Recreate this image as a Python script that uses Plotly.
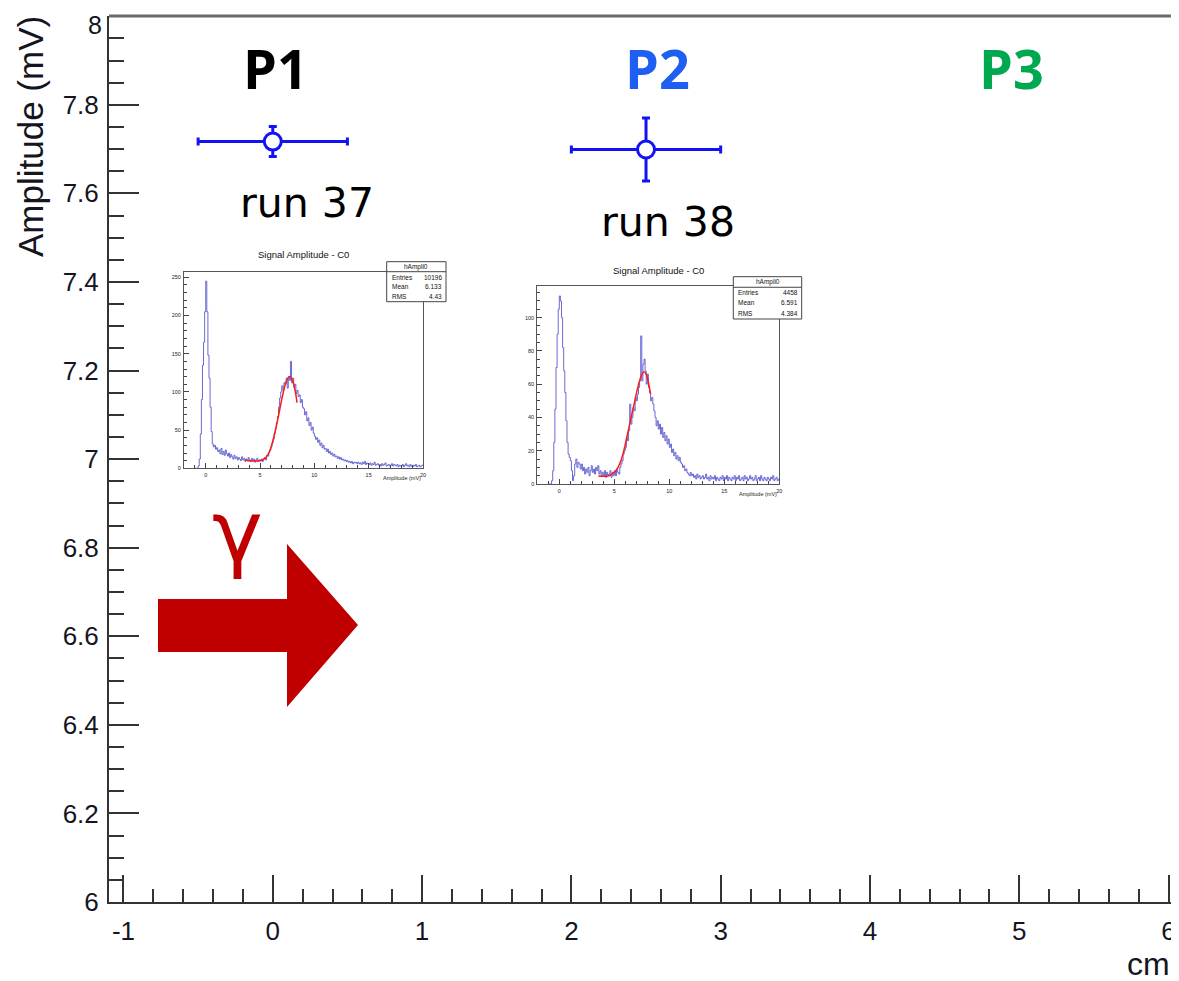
import numpy as np
import plotly.graph_objects as go

# ---------------- data ----------------
positions_cm = [0.0, 2.5]
amplitudes_mV = [7.717, 7.699]
pos_err_cm = [0.5, 0.5]
amp_err_mV = [0.034, 0.071]
point_names = ["P1", "P2", "P3"]
point_colors = ["#000000", "#1f5ef2", "#00a84f"]
run_names = ["run 37", "run 38"]
x_tick_vals = [-1, 0, 1, 2, 3, 4, 5, 6]
x_tick_text = ["-1", "0", "1", "2", "3", "4", "5", "6"]
y_tick_vals = [6.0, 6.2, 6.4, 6.6, 6.8, 7.0, 7.2, 7.4, 7.6, 7.8, 8.0]
y_tick_text = ["6", "6.2", "6.4", "6.6", "6.8", "7", "7.2", "7.4", "7.6", "7.8", ""]
y_top_label = "8"

hist_low = -1.0
hist_bin = 0.1
run37_counts = [
    0, 0, 0, 3, 12, 45, 90, 135, 165, 205,
    245, 205, 148, 118, 80, 48, 32, 28, 30, 25,
    27, 22, 24, 19, 26, 18, 22, 17, 24, 19,
    16, 20, 14, 18, 15, 12, 17, 13, 15, 11,
    14, 12, 10, 15, 11, 13, 9, 12, 10, 14,
    11, 9, 13, 10, 12, 8, 11, 13, 9, 11,
    10, 12, 9, 12, 14, 11, 17, 16, 21, 24,
    28, 33, 38, 46, 52, 60, 68, 80, 92, 100,
    108, 102, 112, 110, 118, 105, 120, 115, 140, 112,
    118, 106, 110, 98, 102, 94, 96, 86, 90, 80,
    78, 70, 74, 62, 66, 56, 60, 50, 54, 46,
    42, 38, 40, 34, 37, 30, 33, 27, 30, 25,
    26, 22, 25, 20, 22, 18, 20, 16, 18, 15,
    16, 13, 15, 12, 14, 11, 12, 10, 11, 9,
    10, 8, 9, 7, 9, 6, 8, 7, 8, 6,
    8, 6, 7, 5, 8, 6, 9, 5, 7, 6,
    5, 7, 4, 6, 5, 8, 4, 5, 6, 4,
    5, 3, 6, 4, 5, 7, 3, 4, 5, 3,
    4, 6, 3, 5, 4, 3, 5, 2, 4, 3,
    3, 5, 2, 4, 6, 3, 4, 2, 5, 3,
    2, 4, 3, 5, 2, 3, 4, 2, 3, 4,
]
run38_counts = [
    0, 0, 0, 2, 8, 25, 45, 70, 90, 105,
    113, 110, 100, 82, 68, 55, 38, 25, 18, 16,
    14, 8, 2, 5, 12, 15, 10, 13, 12, 9,
    12, 8, 10, 6, 9, 7, 10, 5, 8, 11,
    7, 9, 6, 10, 8, 11, 6, 8, 5, 7,
    5, 8, 4, 7, 5, 6, 8, 4, 7, 5,
    8, 5, 9, 7, 6, 10, 12, 14, 18, 20,
    22, 28, 26, 32, 48, 36, 40, 46, 44, 52,
    50, 54, 58, 62, 89, 62, 72, 75, 68, 60,
    66, 58, 55, 50, 52, 48, 44, 40, 35, 38,
    33, 36, 30, 34, 28, 31, 26, 29, 24, 27,
    22, 24, 19, 21, 17, 19, 15, 17, 14, 16,
    13, 12, 10, 11, 8, 9, 7, 6, 5, 7,
    5, 6, 4, 5, 3, 6, 4, 5, 3, 4,
    5, 3, 4, 6, 3, 4, 2, 5, 3, 4,
    3, 5, 2, 4, 3, 2, 4, 3, 5, 2,
    4, 3, 5, 2, 4, 3, 2, 4, 3, 5,
    2, 4, 3, 5, 2, 3, 4, 2, 5, 3,
    4, 2, 3, 5, 3, 4, 2, 3, 5, 2,
    3, 4, 2, 5, 3, 2, 4, 3, 2, 4,
    3, 2, 4, 3, 5, 2, 3, 4, 2, 3,
]
fit37_x = [3.6, 4.0, 4.5, 5.0, 5.3, 5.6, 5.9, 6.2, 6.5, 6.8, 7.1, 7.4, 7.7, 7.9, 8.1, 8.3, 8.4]
fit37_y = [11, 10, 9.5, 10, 11.5, 15, 23, 37, 55, 76, 97, 113, 120, 118, 110, 96, 86]
fit38_x = [3.55, 4.0, 4.5, 5.0, 5.3, 5.6, 5.9, 6.2, 6.5, 6.8, 7.1, 7.4, 7.7, 7.9, 8.1, 8.3]
fit38_y = [4.8, 4.6, 5.0, 7.0, 9.5, 14, 21, 30, 39, 48, 57, 64, 67.5, 66, 61, 54]
stats_labels = ["Entries", "Mean", "RMS"]
stats37 = ["10196", "6.133", "4.43"]
stats38 = ["4458", "6.591", "4.384"]

# ---------------- layout helpers (page pixels; page body has an 8px margin) ----------------
OFF = 8
W, H = 1179 - OFF, 981 - OFF
PL, PT, PR, PB = 109, 16, 1179, 902      # plot area in page pixels
ML, MT = PL - OFF, PT - OFF
MR = (W + OFF) - PR
MB = (H + OFF) - PB
PW = PR - PL
PH = PB - PT


def px(x):
    return (x - PL) / PW


def py(y):
    return (PB - y) / PH


def steps(counts):
    edges = hist_low + hist_bin * np.arange(len(counts) + 1)
    return edges, list(counts) + [counts[-1]]


BLUE = "#1212f5"
AX = "#333333"
FONT = "Liberation Sans, Arial, sans-serif"

fig = go.Figure()

fig.add_trace(go.Scatter(
    x=positions_cm, y=amplitudes_mV, mode="markers",
    marker=dict(symbol="circle", size=17, color="white", line=dict(color=BLUE, width=3)),
    error_x=dict(type="data", array=pos_err_cm, color=BLUE, thickness=3, width=4),
    error_y=dict(type="data", array=amp_err_mV, color=BLUE, thickness=3, width=4),
    showlegend=False, xaxis="x", yaxis="y"))

HCOL = "rgba(80,80,205,0.85)"
for i, (counts, fx, fy) in enumerate([(run37_counts, fit37_x, fit37_y), (run38_counts, fit38_x, fit38_y)]):
    e, c = steps(counts)
    xa, ya = ("x2", "y2") if i == 0 else ("x3", "y3")
    fig.add_trace(go.Scatter(x=e, y=c, mode="lines", line=dict(color=HCOL, width=1, shape="hv"),
                             showlegend=False, xaxis=xa, yaxis=ya))
    fig.add_trace(go.Scatter(x=fx, y=fy, mode="lines", line=dict(color="#ff1a1a", width=1.5, shape="spline"),
                             showlegend=False, xaxis=xa, yaxis=ya))

main_font = dict(family=FONT, size=26, color="#15151f")
fig.update_layout(
    width=W, height=H, autosize=False,
    margin=dict(l=ML, r=MR, t=MT, b=MB, pad=0),
    paper_bgcolor="white", plot_bgcolor="white",
    xaxis=dict(range=[-1.097, 6.07], domain=[0, 1], anchor="y", automargin=False,
               showline=True, linecolor=AX, linewidth=2, showgrid=False, zeroline=False,
               ticks="inside", ticklen=27, tickwidth=1.5, tickcolor=AX,
               tickmode="array", tickvals=x_tick_vals, ticktext=x_tick_text,
               minor=dict(ticks="inside", ticklen=13, tickwidth=1.5, tickcolor=AX, dtick=0.2, tick0=0,
                          showgrid=False),
               tickfont=main_font, ticklabelstandoff=5, ticklabeloverflow="allow"),
    yaxis=dict(range=[6, 8.0005], domain=[0, 1], anchor="x", automargin=False,
               showline=True, linecolor=AX, linewidth=2, showgrid=False, zeroline=False,
               ticks="inside", ticklen=30, tickwidth=1.5, tickcolor=AX,
               tickmode="array", tickvals=y_tick_vals, ticktext=y_tick_text,
               minor=dict(ticks="inside", ticklen=15, tickwidth=1.5, tickcolor=AX, dtick=0.05, tick0=6,
                          showgrid=False),
               tickfont=main_font, ticklabelstandoff=3, ticklabeloverflow="allow"),
)

inset_font = dict(family=FONT, size=5.5, color="#222")
inset_common = dict(showline=True, mirror=True, linecolor="#555", linewidth=1, showgrid=False, zeroline=False,
                    automargin=False,
                    ticks="inside", tickwidth=0.8, tickcolor="#444", tickfont=inset_font, ticklabelstandoff=1)
fig.update_layout(
    xaxis2=dict(domain=[px(184), px(423)], anchor="y2", range=[-2, 20], dtick=5, ticklen=5,
                minor=dict(ticks="inside", ticklen=3, dtick=1, tickcolor="#444"), **inset_common),
    yaxis2=dict(domain=[py(468.3), py(272)], anchor="x2", range=[0, 257], dtick=50, ticklen=5,
                minor=dict(ticks="inside", ticklen=3, dtick=10, tickcolor="#444"), **inset_common),
    xaxis3=dict(domain=[px(537.3), px(779.3)], anchor="y3", range=[-2, 20], dtick=5, ticklen=5,
                minor=dict(ticks="inside", ticklen=3, dtick=1, tickcolor="#444"), **inset_common),
    yaxis3=dict(domain=[py(484), py(286)], anchor="x3", range=[0, 119], dtick=20, ticklen=5,
                minor=dict(ticks="inside", ticklen=3, dtick=5, tickcolor="#444"), **inset_common),
)

shapes = []
annotations = []

# top frame line
shapes.append(dict(type="line", xref="paper", yref="paper", x0=px(109), x1=px(1179), y0=py(16), y1=py(16),
                   line=dict(color="#6a6a6a", width=3)))

# red arrow
arrow_pts = [(158, 599), (287, 599), (287, 544), (358, 625), (287, 707), (287, 652), (158, 652)]
path = "M " + " L ".join(f"{px(a):.5f},{py(b):.5f}" for a, b in arrow_pts) + " Z"
shapes.append(dict(type="path", xref="paper", yref="paper", path=path, fillcolor="#c00000",
                   line=dict(width=0)))


def ann(x, y, text, size, color="#000", family=FONT, xanchor="center", yanchor="middle", angle=0, bold=False):
    annotations.append(dict(xref="paper", yref="paper", x=px(x), y=py(y), text=(f"<b>{text}</b>" if bold else text),
                            showarrow=False, xanchor=xanchor, yanchor=yanchor, textangle=angle,
                            font=dict(family=family, size=size, color=color)))


# top y tick label (kept inside the page)
ann(104, 25, y_top_label, 25, "#15151f", xanchor="right")

# axis titles
ann(31, 137, "Amplitude (mV)", 35, "#15151f", angle=-90)
ann(1172, 964, "cm", 32, "#15151f", xanchor="right")

# point labels
for name, col, xc in zip(point_names, point_colors, [275, 657, 1011]):
    ann(xc, 68, name, 54, col, family="Open Sans, Noto Sans, sans-serif", bold=True)
for name, (xc, yc) in zip(run_names, [(307, 203), (668, 222)]):
    ann(xc, yc, name, 41, "#000", family="DejaVu Sans, sans-serif")

# gamma
ann(237, 531, "γ", 86, "#c00000", family="DejaVu Sans, sans-serif")

# inset titles, x-titles and stats boxes
insets = [
    dict(title=(303, 254), xt=(423, 478), box=(386.7, 261.7, 446, 301.7), rows=(277.3, 286.7, 296.7), stats=stats37),
    dict(title=(658, 270), xt=(779, 494), box=(733.3, 276.7, 801.7, 319), rows=(292.7, 302.7, 313.3), stats=stats38),
]
for ins in insets:
    ann(ins["title"][0], ins["title"][1], "Signal Amplitude - C0", 9.5, "#111")
    ann(ins["xt"][0], ins["xt"][1], "Amplitude (mV)", 5.5, "#222", xanchor="right")
    x0, y0, x1, y1 = ins["box"]
    shapes.append(dict(type="rect", xref="paper", yref="paper", x0=px(x0), x1=px(x1), y0=py(y1), y1=py(y0),
                       fillcolor="white", line=dict(color="#444", width=1)))
    hline = y0 + (y1 - y0) * 0.25
    shapes.append(dict(type="line", xref="paper", yref="paper", x0=px(x0), x1=px(x1), y0=py(hline), y1=py(hline),
                       line=dict(color="#444", width=1)))
    ann((x0 + x1) / 2, (y0 + hline) / 2, "hAmpli0", 6.5, "#111")
    for lab, val, yr in zip(stats_labels, ins["stats"], ins["rows"]):
        ann(x0 + 3, yr, lab, 6.5, "#111", xanchor="left")
        ann(x1 - 2, yr, val, 6.5, "#111", xanchor="right")

fig.update_layout(shapes=shapes, annotations=annotations)
fig.write_html("out.html")
